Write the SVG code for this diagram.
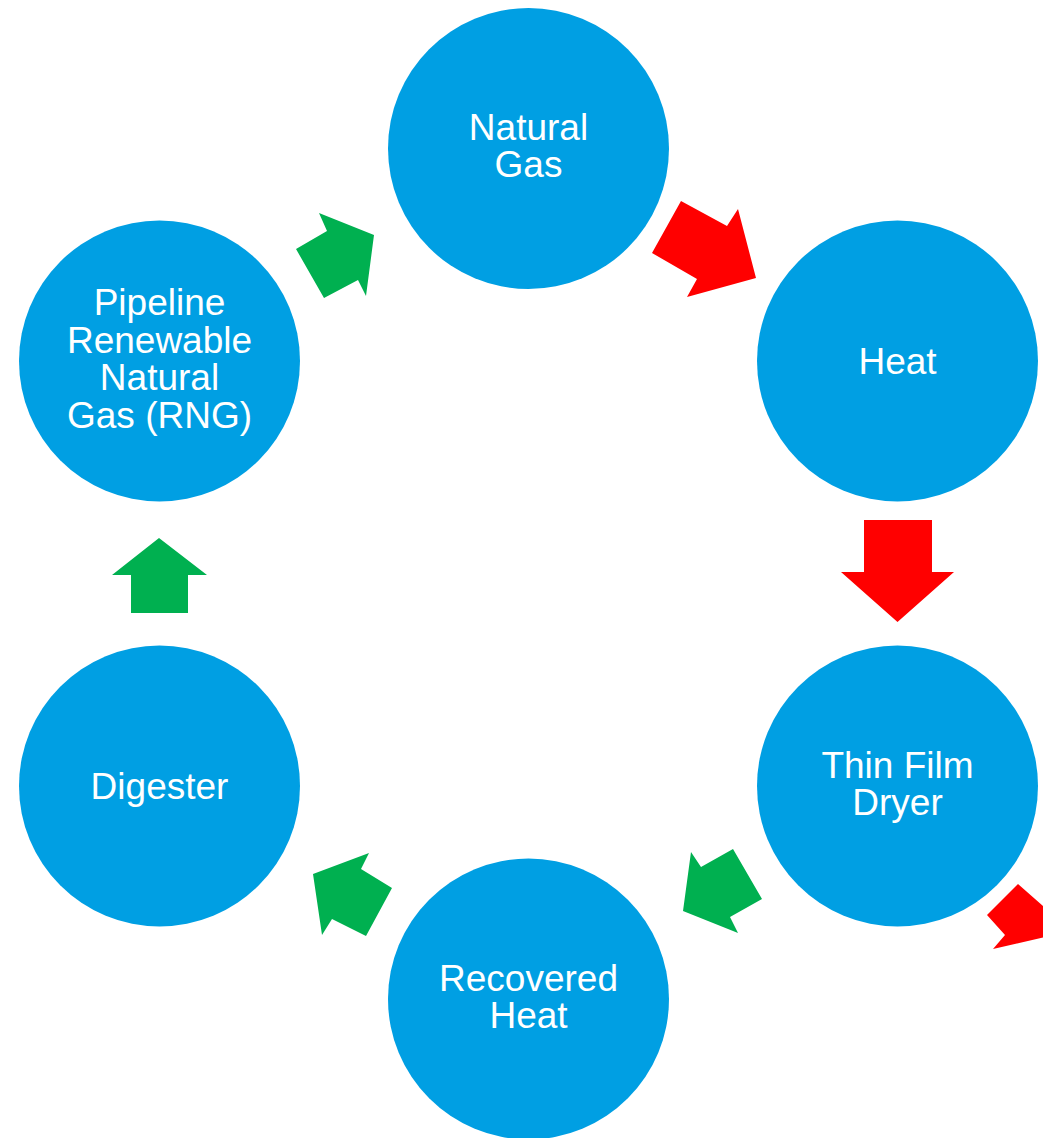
<svg xmlns="http://www.w3.org/2000/svg" width="1043" height="1138" viewBox="0 0 1043 1138">
<style>
.node{fill:#009FE3}
.lbl{font-family:"Liberation Sans",Arial,sans-serif;font-size:37px;fill:#FFFFFF;text-anchor:middle}
.red{fill:#FF0000}
.green{fill:#00B050}
</style>
<rect width="1043" height="1138" fill="#FFFFFF"/>
<g id="connectors">
<polygon class="red" points="681,201 727,226 738,209 756,278 687,297 697,279 652,253"/>
<polygon class="red" points="864,520 932,520 932,572 954,572 897.5,622 841,572 864,572"/>
<polygon class="red" points="1018,884 1050,912 1050,936 993,949 1005,935 987,915"/>
<polygon class="green" points="733,849 762,899 730,917 738,933 683,911 691,852 701,867"/>
<polygon class="green" points="369,853 361,869 392,888 366,936 332,919 322,935 313,874"/>
<polygon class="green" points="159,538 207,575 188,575 188,613 131,613 131,575 112,575"/>
<polygon class="green" points="319,213 374,235 366,296 358,280 324,298 296,249 327,231"/>
</g>
<g id="node-natural-gas">
<circle class="node" cx="528.5" cy="148.5" r="140.5"/>
<text class="lbl" x="528.5" y="140">Natural</text>
<text class="lbl" x="528.5" y="177">Gas</text>
</g>
<g id="node-heat">
<circle class="node" cx="897.5" cy="361" r="140.5"/>
<text class="lbl" x="897.5" y="374">Heat</text>
</g>
<g id="node-thin-film-dryer">
<circle class="node" cx="897.5" cy="786" r="140.5"/>
<text class="lbl" x="897.5" y="778">Thin Film</text>
<text class="lbl" x="897.5" y="815">Dryer</text>
</g>
<g id="node-recovered-heat">
<circle class="node" cx="528.5" cy="999" r="140.5"/>
<text class="lbl" x="528.5" y="991">Recovered</text>
<text class="lbl" x="528.5" y="1028">Heat</text>
</g>
<g id="node-digester">
<circle class="node" cx="159.5" cy="786" r="140.5"/>
<text class="lbl" x="159.5" y="799">Digester</text>
</g>
<g id="node-pipeline-rng">
<circle class="node" cx="159.5" cy="361" r="140.5"/>
<text class="lbl" x="159.5" y="315">Pipeline</text>
<text class="lbl" x="159.5" y="352.5">Renewable</text>
<text class="lbl" x="159.5" y="390">Natural</text>
<text class="lbl" x="159.5" y="427.5">Gas (RNG)</text>
</g>
</svg>
